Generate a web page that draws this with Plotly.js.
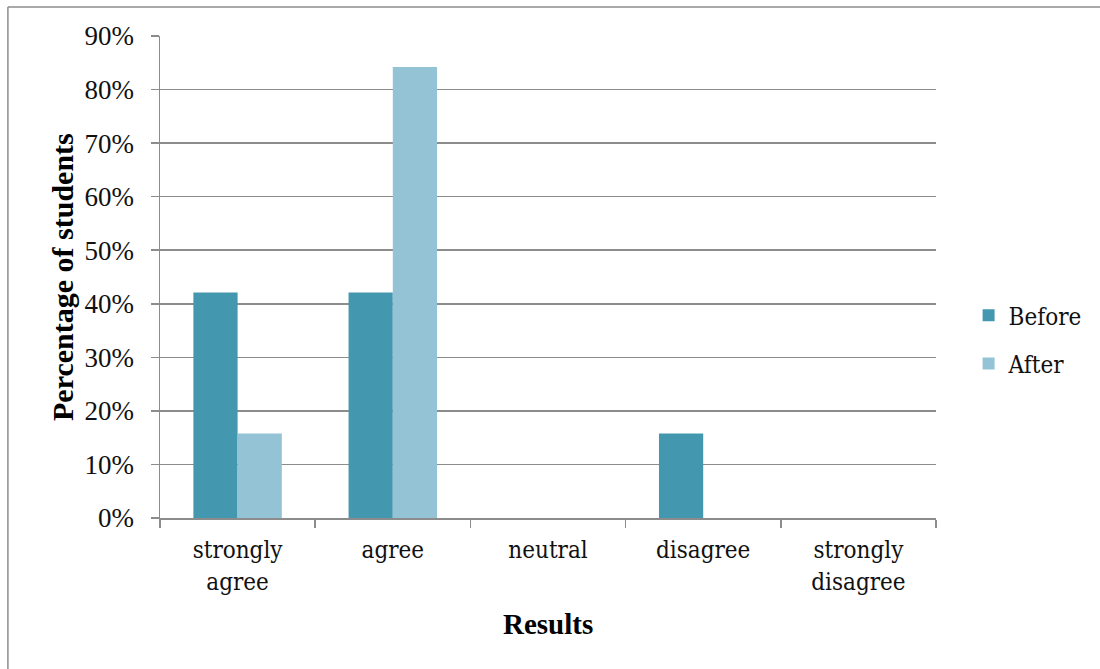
<!DOCTYPE html>
<html>
<head>
<meta charset="utf-8">
<script src="https://cdn.plot.ly/plotly-3.0.1.min.js"></script>
<style>html,body{margin:0;padding:0;background:#fff;}#chart{width:1100px;height:669px;}</style>
</head>
<body>
<div id="chart"></div>
<script>
const categories = ["strongly<br>agree", "agree", "neutral", "disagree", "strongly<br>disagree"];
const beforeValues = [42.1, 42.1, 0, 15.8, 0];
const afterValues = [15.8, 84.2, 0, 0, 0];
const yTickValues = [0, 10, 20, 30, 40, 50, 60, 70, 80, 90];
const yTickLabels = ["0%", "10%", "20%", "30%", "40%", "50%", "60%", "70%", "80%", "90%"];

const serif = "Liberation Serif, Times New Roman, serif";
const cambria = "DejaVu Serif Condensed, DejaVu Serif, serif";
const gridColor = "#8c8c8c";

const traces = [
  {type: "bar", name: "Before", x: categories, y: beforeValues, legendgroup: "b",
   marker: {color: "#4398B0"}},
  {type: "bar", name: "After", x: categories, y: afterValues, legendgroup: "a",
   marker: {color: "#94C3D5"}}
];

const layout = {
  width: 1100, height: 669,
  margin: {l: 160, r: 164, t: 36, b: 151, autoexpand: false},
  paper_bgcolor: "#fff", plot_bgcolor: "#fff",
  barmode: "group", bargap: 0.43, bargroupgap: 0,
  font: {family: serif, color: "#000", size: 22},
  xaxis: {
    type: "category",
    showgrid: false, showline: true, linecolor: gridColor, linewidth: 1.5,
    ticks: "outside", tickson: "boundaries", ticklen: 8, tickcolor: gridColor, tickwidth: 1.5,
    ticklabelstandoff: 10,
    tickfont: {family: cambria, size: 24, color: "#111"},
    automargin: false
  },
  yaxis: {
    range: [0, 90], tickvals: yTickValues, ticktext: yTickLabels,
    showgrid: true, gridcolor: gridColor, gridwidth: 1.5,
    showline: true, linecolor: gridColor, linewidth: 1.5,
    zeroline: false,
    ticks: "outside", ticklen: 8, tickcolor: gridColor, tickwidth: 1.5,
    ticklabelstandoff: 11,
    tickfont: {family: serif, size: 27, color: "#111"},
    automargin: false
  },
  legend: {
    x: 1.042, xanchor: "left", y: 0.37, yanchor: "middle",
    font: {family: cambria, size: 24, color: "#111"}, tracegroupgap: 14,
    bgcolor: "rgba(0,0,0,0)"
  },
  annotations: [
    {text: "<b>Percentage of students</b>", xref: "paper", yref: "paper",
     x: -0.1263, y: 0.5, xanchor: "center", yanchor: "middle", textangle: -90,
     showarrow: false, font: {family: serif, size: 30, color: "#000"}},
    {text: "<b>Results</b>", xref: "paper", yref: "paper",
     x: 0.5, y: -0.22, xanchor: "center", yanchor: "middle",
     showarrow: false, font: {family: serif, size: 29, color: "#000"}}
  ],
  shapes: [
    {type: "line", xref: "paper", yref: "paper", x0: -0.196, x1: 1.25, y0: 1.0602, y1: 1.0602,
     line: {color: "#8c8c8c", width: 1.5}},
    {type: "line", xref: "paper", yref: "paper", x0: -0.196, x1: -0.196, y0: 1.0602, y1: -0.4,
     line: {color: "#8c8c8c", width: 1.5}}
  ]
};

Plotly.newPlot("chart", traces, layout, {displayModeBar: false, staticPlot: true});
</script>
</body>
</html>
